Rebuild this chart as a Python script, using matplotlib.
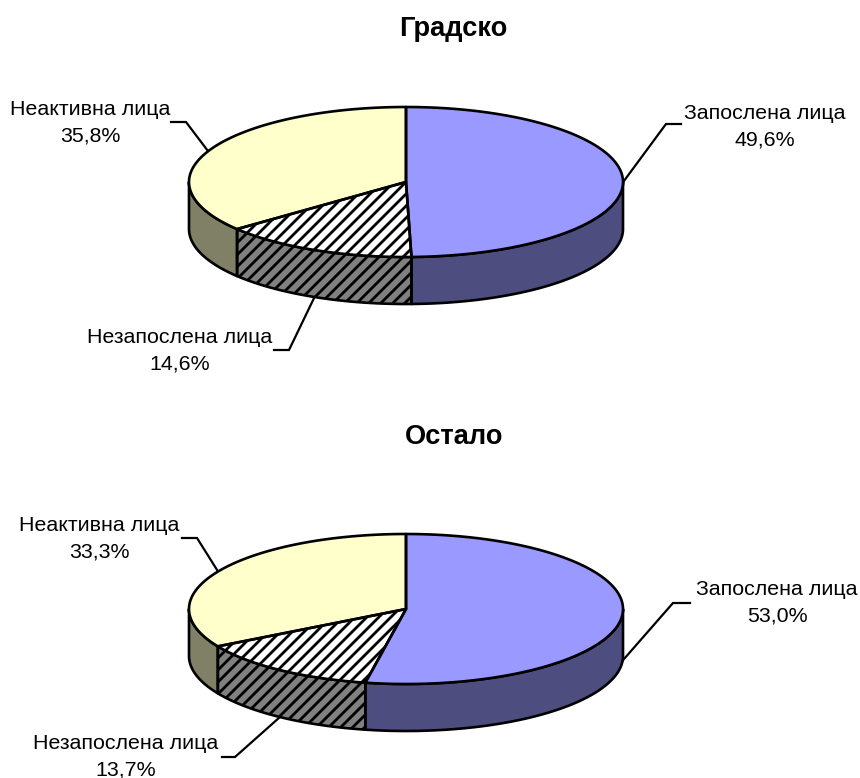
import numpy as np
import matplotlib
matplotlib.use("Agg")
import matplotlib.pyplot as plt
from matplotlib.patches import Polygon
from matplotlib.collections import LineCollection

plt.rcParams['font.family'] = ['Liberation Sans', 'DejaVu Sans']

labels = ['Запослена лица', 'Незапослена лица', 'Неактивна лица']
urban = [49.6, 14.6, 35.8]
other = [53.0, 13.7, 33.3]

top_colors = ['#9999FF', '#FFFFFF', '#FFFFCC']
side_colors = ['#4D4D80', '#808080', '#808066']
hatched = [False, True, False]

rx = 217
ry = 75
depth = 47
lw = 1.9


def ell(t, cx, cy):
  return cx + rx*np.sin(t), cy - ry*np.cos(t)


def addHatch(ax, poly):
  # diagonal stripes, clipped to the slice
  x0, y0 = poly.get_xy().min(axis=0)
  x1, y1 = poly.get_xy().max(axis=0)
  segs = []
  for k in np.arange((x0+y0)//12*12, x1+y1+12, 12):
    segs.append([(k-y0+5, y0-5), (k-y1-5, y1+5)])
  lc = LineCollection(segs, colors='k', linewidths=2.0, zorder=poly.get_zorder())
  ax.add_collection(lc)
  lc.set_clip_path(poly)


def pie3d(ax, values, cx, cy):
  edges = np.radians(np.cumsum([0] + values) * 3.6)
  # walls first, only the part of the rim facing the viewer
  for i in range(len(values)):
    a = max(edges[i], np.pi/2)
    b = min(edges[i+1], 3*np.pi/2)
    if a < b:
      t = np.linspace(a, b, 120)
      x, y = ell(t, cx, cy)
      pts = np.r_[np.c_[x, y], np.c_[x, y + depth][::-1]]
      p = Polygon(pts, closed=True, fc=side_colors[i], ec='none', zorder=2)
      ax.add_patch(p)
      if hatched[i]:
        addHatch(ax, p)
      ax.add_patch(Polygon(pts, closed=True, fc='none', ec='k', lw=lw, zorder=3, joinstyle='round'))
  for i in range(len(values)):
    t = np.linspace(edges[i], edges[i+1], 200)
    x, y = ell(t, cx, cy)
    pts = np.r_[[[cx, cy]], np.c_[x, y]]
    p = Polygon(pts, closed=True, fc=top_colors[i], ec='none', zorder=4)
    ax.add_patch(p)
    if hatched[i]:
      addHatch(ax, p)
    ax.add_patch(Polygon(pts, closed=True, fc='none', ec='k', lw=lw, zorder=5, joinstyle='round'))


def callout(ax, pts, tx, ty, label, value):
  xs, ys = zip(*pts)
  ax.plot(xs, ys, color='k', lw=1.6, zorder=1, solid_joinstyle='miter')
  txt = "%s\n%s%%" % (label, ("%.1f" % value).replace('.', ','))
  ax.text(tx, ty + 1.5, txt, ha='center', va='center', fontsize=15.4, linespacing=1.47, color='k')


fig = plt.figure(figsize=(8.6, 7.78), dpi=100)
ax = fig.add_axes([0, 0, 1, 1])
ax.set_xlim(0, 860)
ax.set_ylim(778, 0)
ax.axis('off')

ax.text(453.5, 29, 'Градско', ha='center', va='center', fontsize=19.6, fontweight='bold')
ax.text(454, 437, 'Остало', ha='center', va='center', fontsize=19.6, fontweight='bold')

pie3d(ax, urban, 406, 182)
callout(ax, [(618, 189), (666, 124), (681, 124)], 765, 125, labels[0], urban[0])
callout(ax, [(316, 294), (289, 350), (274, 350)], 180, 349, labels[1], urban[1])
callout(ax, [(214, 159), (186, 122), (171, 122)], 90, 121, labels[2], urban[2])

pie3d(ax, other, 406, 609)
callout(ax, [(617, 667), (673, 603), (690, 603)], 777, 601, labels[0], other[0])
callout(ax, [(289, 709), (235, 757), (222, 757)], 126, 755, labels[1], other[1])
callout(ax, [(224, 581), (197, 538), (182, 538)], 99, 537, labels[2], other[2])

plt.savefig("out.png", dpi=100)
